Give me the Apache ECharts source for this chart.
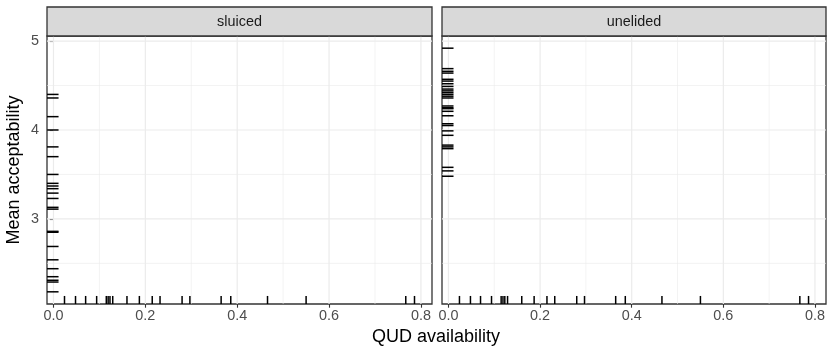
<!DOCTYPE html>
<html>
<head>
<meta charset="utf-8">
<script src="https://cdn.jsdelivr.net/npm/echarts@6/dist/echarts.min.js"></script>
<style>
  html, body { margin: 0; padding: 0; background: #fff; }
  #chart { width: 828px; height: 347px; }
</style>
</head>
<body>
<div id="chart"></div>
<script>
// ── data ──────────────────────────────────────
const panels = ['sluiced', 'unelided']

// QUD availability per item (same rug in both panels)
const qudAvailability = [0.024, 0.048, 0.070, 0.094, 0.115, 0.119, 0.123, 0.129, 0.160, 0.187,
  0.215, 0.232, 0.280, 0.297, 0.365, 0.386, 0.466, 0.550, 0.767, 0.786]

// mean acceptability, left rug
const sluicedMeans = [4.40, 4.36, 4.15, 4.00, 3.81, 3.70, 3.50, 3.40, 3.37, 3.34, 3.29, 3.23,
  3.13, 3.11, 2.86, 2.85, 2.69, 2.54, 2.44, 2.35, 2.31, 2.29, 2.18]
const unelidedMeans = [4.92, 4.69, 4.66, 4.64, 4.57, 4.55, 4.52, 4.49, 4.46, 4.44, 4.42, 4.40,
  4.38, 4.36, 4.27, 4.25, 4.24, 4.21, 4.16, 4.07, 4.05, 3.99, 3.94, 3.83, 3.81, 3.79,
  3.58, 3.54, 3.48]

const xMajor = [0, 0.2, 0.4, 0.6, 0.8]
const xMinor = [0.1, 0.3, 0.5, 0.7]
const yMajor = [3, 4, 5]
const yMinor = [2.5, 3.5, 4.5]

// ── scales (ggplot-style 5% expansion) ────────
const expand = (vals) => {
  const lo = Math.min(...vals), hi = Math.max(...vals)
  const pad = (hi - lo) * 0.05
  return [lo - pad, hi + pad]
}
const [xLo, xHi] = expand(qudAvailability)
const [yLo, yHi] = expand(sluicedMeans.concat(unelidedMeans))

const FONT = '"Liberation Sans", Arial, sans-serif'
const GRID_COL = '#EBEBEB'
const DARK = '#333333'
const SMALL = 14.4
const BIG = 18

const grids = [
  { left: 47, top: 36, width: 385, height: 268 },
  { left: 442, top: 36, width: 384, height: 268 },
]

// ── series builders ───────────────────────────
function vLines(gi, vals, lw) {
  return {
    type: 'custom', xAxisIndex: gi, yAxisIndex: gi, silent: true, z: 1,
    data: vals.map(v => [v, yLo]), encode: { x: 0, y: 1 },
    renderItem: (params, api) => {
      const cs = params.coordSys
      const x = api.coord([api.value(0), yLo])[0]
      return { type: 'line', shape: { x1: x, y1: cs.y, x2: x, y2: cs.y + cs.height },
        style: { stroke: GRID_COL, lineWidth: lw } }
    },
  }
}

function hLines(gi, vals, lw) {
  return {
    type: 'custom', xAxisIndex: gi, yAxisIndex: gi, silent: true, z: 1,
    data: vals.map(v => [xLo, v]), encode: { x: 0, y: 1 },
    renderItem: (params, api) => {
      const cs = params.coordSys
      const y = api.coord([xLo, api.value(1)])[1]
      return { type: 'line', shape: { x1: cs.x, y1: y, x2: cs.x + cs.width, y2: y },
        style: { stroke: GRID_COL, lineWidth: lw } }
    },
  }
}

function xRug(gi) {
  return {
    type: 'custom', xAxisIndex: gi, yAxisIndex: gi, silent: true, z: 5, clip: false,
    data: qudAvailability.map(v => [v, yLo]), encode: { x: 0, y: 1 },
    renderItem: (params, api) => {
      const cs = params.coordSys
      const x = api.coord([api.value(0), yLo])[0]
      const b = cs.y + cs.height
      return { type: 'line', shape: { x1: x, y1: b, x2: x, y2: b - cs.height * 0.03 },
        style: { stroke: '#000', lineWidth: 1.5 } }
    },
  }
}

function yRug(gi, vals) {
  return {
    type: 'custom', xAxisIndex: gi, yAxisIndex: gi, silent: true, z: 5, clip: false,
    data: vals.map(v => [xLo, v]), encode: { x: 0, y: 1 },
    renderItem: (params, api) => {
      const cs = params.coordSys
      const y = api.coord([xLo, api.value(1)])[1]
      return { type: 'line', shape: { x1: cs.x, y1: y, x2: cs.x + cs.width * 0.03, y2: y },
        style: { stroke: '#000', lineWidth: 1.5 } }
    },
  }
}

// ── axes ──────────────────────────────────────
const xAxes = grids.map((g, i) => ({
  type: 'value', gridIndex: i, min: xLo, max: xHi,
  axisLine: { show: false },
  splitLine: { show: false },
  axisTick: { show: true, customValues: xMajor, length: 3.7, lineStyle: { color: DARK, width: 1.1 } },
  axisLabel: { customValues: xMajor, formatter: v => v.toFixed(1), color: '#4D4D4D',
    fontSize: SMALL, fontFamily: FONT, margin: 5 },
}))

const yAxes = grids.map((g, i) => ({
  type: 'value', gridIndex: i, min: yLo, max: yHi,
  axisLine: { show: false },
  splitLine: { show: false },
  axisTick: { show: i === 0, customValues: yMajor, length: 3.7, lineStyle: { color: DARK, width: 1.1 } },
  axisLabel: { show: i === 0, customValues: yMajor, color: '#4D4D4D',
    fontSize: SMALL, fontFamily: FONT, margin: 8 },
}))

const series = []
grids.forEach((g, i) => {
  series.push(vLines(i, xMinor, 0.6), hLines(i, yMinor, 0.6))
  series.push(vLines(i, xMajor, 1.2), hLines(i, yMajor, 1.2))
  series.push(xRug(i), yRug(i, i === 0 ? sluicedMeans : unelidedMeans))
})

// ── strips + titles ───────────────────────────
const graphic = []
grids.forEach((g, i) => {
  graphic.push({ type: 'rect', z: 10,
    shape: { x: g.left, y: 7, width: g.width, height: 29 },
    style: { fill: '#D9D9D9', stroke: DARK, lineWidth: 1.3 } })
  graphic.push({ type: 'text', z: 11, x: g.left + g.width / 2, y: 22,
    style: { text: panels[i], font: SMALL + 'px ' + FONT, fill: '#1A1A1A',
      textAlign: 'center', textVerticalAlign: 'middle', align: 'center', verticalAlign: 'middle' } })
})
graphic.push({ type: 'text', x: 436, y: 337,
  style: { text: 'QUD availability', font: BIG + 'px ' + FONT, fill: '#000',
    textAlign: 'center', textVerticalAlign: 'middle', align: 'center', verticalAlign: 'middle' } })
graphic.push({ type: 'text', x: 14, y: 170, rotation: Math.PI / 2,
  style: { text: 'Mean acceptability', font: BIG + 'px ' + FONT, fill: '#000',
    textAlign: 'center', textVerticalAlign: 'middle', align: 'center', verticalAlign: 'middle' } })

const chart = echarts.init(document.getElementById('chart'), null, { renderer: 'canvas' })
chart.setOption({
  animation: false,
  backgroundColor: '#fff',
  grid: grids.map(g => ({ ...g, show: true, borderColor: DARK, borderWidth: 1.3, backgroundColor: '#fff', z: 0 })),
  xAxis: xAxes,
  yAxis: yAxes,
  series,
  graphic,
})
</script>
</body>
</html>
